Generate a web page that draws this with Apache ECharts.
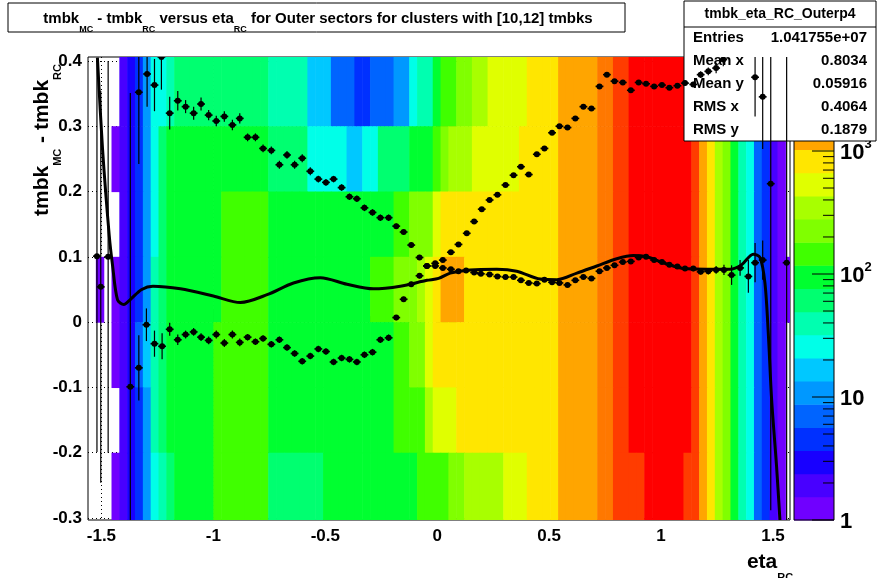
<!DOCTYPE html>
<html><head><meta charset="utf-8">
<script src="https://cdn.jsdelivr.net/npm/echarts@6/dist/echarts.min.js"></script>
<style>html,body{margin:0;padding:0;background:#fff}#c{width:878px;height:578px}</style>
</head><body><div id="c"></div>
<script>
// ---- data ----
const xTickLabels = [-1.5, -1, -0.5, 0, 0.5, 1, 1.5];
const yTickLabels = [-0.3, -0.2, -0.1, 0, 0.1, 0.2, 0.3, 0.4];
const binStart = -1.56, binWidth = 0.035;           // eta binning of the 2D histogram
const rowEdges = [0.41, 0.3, 0.2, 0.1, 0, -0.1, -0.2, -0.31]; // y bands (top -> bottom)
// colour level (0..19, -1 = empty) read per eta bin, per y band
const band0 = [-1,-1,-1,-1,1,2,3,5,7,7, 8,9,9,9,9,9,9,9,9,9, 9,9,9,8,8,8,8,8,6,6, 6,4,4,4,3,3,4,4,4,5, 5,7,8,8,10,11,11,12,12,13, 13,14,14,14,14,14,15,15,15,15, 16,16,16,16,16,17,17,18,18,19, 19,19,19,19,19,19,19,18,16,15, 13,12,10,8,7,4,3,1,0,-1];
const band1 = [-1,-1,-1,0,1,2,3,5,7,9, 10,10,10,10,10,10,10,10,10,10, 10,10,10,9,9,9,9,9,7,7, 7,7,7,6,6,7,7,9,9,9, 9,10,10,10,11,12,13,13,13,14, 14,14,14,14,14,15,15,15,15,15, 16,16,16,16,16,17,17,18,18,19, 19,19,19,19,19,19,19,18,16,15, 13,12,10,8,7,4,3,1,0,-1];
const band2 = [-1,-1,-1,-1,1,2,3,5,7,9, 10,10,10,10,10,10,10,11,11,11, 11,11,11,10,10,10,10,10,10,10, 10,10,10,10,10,10,10,10,10,11, 11,12,12,12,14,15,15,15,15,15, 15,15,15,15,15,15,15,15,15,15, 16,16,16,16,16,17,17,18,18,19, 19,19,19,19,19,19,19,18,16,15, 13,12,10,8,7,4,3,1,0,-1];
const band3 = [-1,0,-1,0,1,2,3,5,8,9, 10,10,10,10,10,10,10,11,11,11, 11,11,11,10,10,10,10,10,10,10, 10,10,10,10,10,10,11,11,11,12, 12,12,13,14,15,16,16,16,15,15, 15,15,15,15,15,15,15,15,15,15, 16,16,16,16,16,17,17,18,18,19, 19,19,19,19,19,19,19,18,16,15, 13,12,10,8,7,4,3,1,0,0];
const band4 = [-1,-1,-1,0,1,2,4,6,8,9, 10,10,10,10,10,10,11,11,11,11, 11,11,11,10,10,10,10,10,10,10, 10,10,10,10,10,10,10,10,10,11, 11,12,12,14,15,15,15,15,15,15, 15,15,15,15,15,15,15,15,15,15, 16,16,16,16,16,17,17,18,18,19, 19,19,19,19,19,19,19,18,16,15, 13,12,10,8,7,4,3,1,0,-1];
const band5 = [-1,-1,-1,-1,1,2,3,5,8,9, 10,10,10,10,10,10,11,11,11,11, 11,11,11,10,10,10,10,10,10,10, 10,10,10,10,10,10,10,10,10,11, 11,11,11,13,14,14,14,15,15,15, 15,15,15,15,15,15,15,15,15,15, 16,16,16,16,16,17,17,18,18,19, 19,19,19,19,19,19,19,18,16,15, 13,12,10,8,7,4,3,1,0,-1];
const band6 = [-1,-1,-1,0,1,2,3,5,7,8, 9,10,10,10,10,10,11,11,11,11, 11,11,11,9,9,9,9,9,9,9, 10,10,10,10,10,10,10,10,10,10, 10,10,11,11,11,11,12,12,13,13, 13,13,13,14,14,14,15,15,15,15, 16,16,16,16,16,17,17,18,18,18, 18,19,19,19,19,19,18,18,16,15, 13,12,10,8,7,4,3,1,0,-1];
const palette = ['#7000ff','#4800ff','#1800ff','#0030ff','#0064ff','#0098ff','#00c8ff','#00ffe8','#00ffb0','#00ff70','#00ff30','#40ff00','#80ff00','#a8ff00','#e0ff00','#ffe600','#ffa500','#ff7800','#ff3c00','#ff0000'];
// profile points [eta, mean, error]
const profileA = [[-1.520,0.101,0.3],[-1.503,0.054,0.3],[-1.470,0.100,0.3],[-1.371,-0.099,0.45],[-1.333,-0.070,0.05],[-1.299,-0.004,0.025],[-1.263,-0.033,0.02],[-1.229,-0.037,0.02],[-1.195,-0.011,0.01],[-1.159,-0.027,0.008],[-1.124,-0.019,0.006],[-1.088,-0.015,0.006],[-1.055,-0.023,0.006],[-1.021,-0.028,0.006],[-0.987,-0.019,0.006],[-0.951,-0.032,0.006],[-0.915,-0.019,0.006],[-0.882,-0.031,0.006],[-0.847,-0.023,0.005],[-0.812,-0.030,0.005],[-0.778,-0.025,0.005],[-0.741,-0.034,0.005],[-0.705,-0.027,0.005],[-0.671,-0.039,0.005],[-0.637,-0.048,0.005],[-0.603,-0.060,0.005],[-0.567,-0.052,0.005],[-0.531,-0.041,0.005],[-0.497,-0.045,0.005],[-0.463,-0.061,0.005],[-0.427,-0.055,0.005],[-0.392,-0.057,0.005],[-0.359,-0.061,0.005],[-0.325,-0.050,0.005],[-0.289,-0.046,0.005],[-0.254,-0.027,0.005],[-0.217,-0.024,0.005],[-0.183,0.007,0.004],[-0.150,0.035,0.004],[-0.116,0.058,0.004],[-0.079,0.071,0.004],[-0.046,0.086,0.003],[-0.009,0.090,0.003],[0.025,0.095,0.003],[0.061,0.107,0.003],[0.095,0.119,0.003],[0.132,0.136,0.003],[0.165,0.154,0.003],[0.199,0.173,0.003],[0.234,0.187,0.003],[0.269,0.195,0.003],[0.305,0.210,0.003],[0.341,0.225,0.003],[0.374,0.238,0.003],[0.409,0.226,0.003],[0.445,0.257,0.003],[0.479,0.266,0.003],[0.513,0.290,0.003],[0.546,0.300,0.003],[0.582,0.298,0.003],[0.617,0.312,0.003],[0.653,0.330,0.003],[0.689,0.327,0.003],[0.725,0.361,0.003],[0.758,0.379,0.003],[0.792,0.369,0.003],[0.829,0.367,0.003],[0.865,0.355,0.003],[0.900,0.367,0.003],[0.933,0.365,0.003],[0.969,0.361,0.003],[1.004,0.363,0.003],[1.037,0.359,0.003],[1.073,0.362,0.003],[1.107,0.366,0.004],[1.144,0.364,0.004],[1.177,0.379,0.005],[1.211,0.384,0.006],[1.246,0.389,0.008],[1.278,0.402,0.01],[1.420,0.375,0.06],[1.454,0.345,0.08]];
const profileB = [[-1.333,0.352,0.11],[-1.296,0.380,0.05],[-1.263,0.363,0.04],[-1.232,0.406,0.05],[-1.195,0.320,0.025],[-1.159,0.339,0.015],[-1.124,0.330,0.01],[-1.088,0.320,0.01],[-1.055,0.334,0.01],[-1.021,0.317,0.008],[-0.987,0.308,0.008],[-0.951,0.315,0.008],[-0.915,0.302,0.008],[-0.882,0.312,0.008],[-0.847,0.283,0.006],[-0.812,0.283,0.006],[-0.778,0.266,0.006],[-0.741,0.263,0.006],[-0.705,0.241,0.006],[-0.671,0.256,0.006],[-0.637,0.241,0.006],[-0.603,0.251,0.006],[-0.567,0.231,0.006],[-0.531,0.219,0.005],[-0.497,0.214,0.005],[-0.463,0.219,0.005],[-0.427,0.206,0.005],[-0.392,0.192,0.005],[-0.359,0.189,0.005],[-0.325,0.175,0.005],[-0.289,0.168,0.005],[-0.254,0.160,0.005],[-0.217,0.160,0.005],[-0.183,0.147,0.004],[-0.150,0.138,0.004],[-0.116,0.118,0.004],[-0.079,0.099,0.004],[-0.046,0.086,0.003],[-0.009,0.086,0.003],[0.025,0.083,0.003],[0.061,0.081,0.003],[0.095,0.078,0.003],[0.129,0.079,0.003],[0.165,0.076,0.003],[0.195,0.074,0.003],[0.234,0.073,0.003],[0.269,0.070,0.003],[0.305,0.069,0.003],[0.341,0.069,0.003],[0.374,0.064,0.003],[0.409,0.060,0.003],[0.445,0.059,0.003],[0.479,0.065,0.003],[0.513,0.061,0.003],[0.546,0.060,0.003],[0.582,0.057,0.003],[0.617,0.064,0.003],[0.653,0.069,0.003],[0.689,0.067,0.003],[0.725,0.078,0.003],[0.758,0.083,0.003],[0.792,0.087,0.003],[0.829,0.092,0.003],[0.865,0.093,0.003],[0.900,0.099,0.003],[0.933,0.100,0.003],[0.969,0.095,0.003],[1.004,0.092,0.003],[1.037,0.088,0.003],[1.073,0.085,0.003],[1.107,0.082,0.003],[1.144,0.082,0.004],[1.177,0.077,0.004],[1.211,0.078,0.005],[1.246,0.080,0.006],[1.281,0.080,0.008],[1.315,0.072,0.015],[1.353,0.083,0.012],[1.390,0.070,0.025],[1.420,0.091,0.03],[1.454,0.095,0.03],[1.490,0.212,0.5],[1.561,0.091,0.5]];
// fitted curve
const fitCurve = [[-1.518,0.405],[-1.495,0.265],[-1.465,0.132],[-1.450,0.086],[-1.428,0.034],[-1.40,0.027],[-1.37,0.035],[-1.32,0.050],[-1.27,0.055],[-1.147,0.051],[-1.0,0.040],[-0.879,0.030],[-0.76,0.042],[-0.642,0.060],[-0.522,0.068],[-0.403,0.058],[-0.285,0.051],[-0.165,0.055],[-0.046,0.064],[0.006,0.067],[0.058,0.075],[0.147,0.080],[0.266,0.081],[0.355,0.078],[0.460,0.066],[0.535,0.065],[0.624,0.075],[0.713,0.086],[0.802,0.097],[0.876,0.102],[0.936,0.100],[1.010,0.091],[1.099,0.082],[1.203,0.081],[1.308,0.081],[1.360,0.088],[1.412,0.104],[1.442,0.099],[1.464,0.060],[1.479,-0.017],[1.494,-0.119],[1.516,-0.221],[1.531,-0.303]];
const statsTitle = 'tmbk_eta_RC_Outerp4';
const statsRows = [['Entries','1.041755e+07'],['Mean x','0.8034'],['Mean y','0.05916'],['RMS x','0.4064'],['RMS y','0.1879']];
const colorbarLabels = [[0,'1',''],[1,'10',''],[2,'10','2'],[3,'10','3']];

// ---- build ----
const FONT = 'Liberation Sans, Arial, sans-serif';
const bands = [band0, band1, band2, band3, band4, band5, band6];
const cells = [];
bands.forEach((b, r) => b.forEach((lv, c) => {
  if (lv < 0) return;
  const x0 = binStart + binWidth * c, x1 = Math.min(x0 + binWidth, 1.576);
  cells.push([x0, x1, rowEdges[r + 1], rowEdges[r], lv]);
}));

const chart = echarts.init(document.getElementById('c'), null, {renderer: 'canvas'});
const G = {left: 88, right: 878 - 790, top: 57, bottom: 578 - 520};
const cbTop = 57, cbBot = 520, decade = 123, cbX = 794, cbW = 40;

function errItem(params, api) {
  const x = api.value(0), y = api.value(1), e = api.value(2);
  const a = api.coord([x, y - e]), b = api.coord([x, y + e]);
  const l = api.coord([x - binWidth / 2, y]), r = api.coord([x + binWidth / 2, y]);
  const c = api.coord([x, y]);
  const ls = {stroke: '#000', lineWidth: 1.2};
  return {type: 'group', children: [
    {type: 'line', shape: {x1: a[0], y1: a[1], x2: b[0], y2: b[1]}, style: ls},
    {type: 'line', shape: {x1: l[0], y1: l[1], x2: r[0], y2: r[1]}, style: {stroke:'#000', lineWidth: 1.6}},
    {type: 'circle', shape: {cx: c[0], cy: c[1], r: 3}, style: {fill: '#000'}}
  ]};
}

const graphics = [];
// colour bar
palette.forEach((col, i) => {
  const h = (cbBot - cbTop) / palette.length;
  graphics.push({type: 'rect', shape: {x: cbX, y: cbBot - h * (i + 1), width: cbW, height: h + 0.5}, style: {fill: col}, z: 10});
});
graphics.push({type: 'rect', shape: {x: cbX, y: cbTop, width: cbW, height: cbBot - cbTop}, style: {fill: 'none', stroke: '#000', lineWidth: 1}, z: 11});
for (let k = 0; k < 4; k++) for (let m = 1; m <= 9; m++) {
  const y = cbBot - decade * (k + Math.log10(m));
  if (y < cbTop) continue;
  const len = m === 1 ? 22 : 11;
  graphics.push({type: 'line', shape: {x1: cbX + cbW - len, y1: y, x2: cbX + cbW, y2: y}, style: {stroke: '#000', lineWidth: 1}, z: 12});
}
colorbarLabels.forEach(([k, t, s]) => {
  graphics.push({type: 'text', x: 840, y: cbBot - decade * k, z: 12,
    style: {text: s ? '{b|' + t + '}{p|' + s + '}' : '{b|' + t + '}', verticalAlign: 'middle', align: 'left',
      rich: {b: {font: 'bold 22px ' + FONT, fill: '#000', verticalAlign: 'bottom', lineHeight: 26},
             p: {font: 'bold 13px ' + FONT, fill: '#000', verticalAlign: 'top', lineHeight: 26}}}});
});
// stats box
graphics.push({type: 'rect', shape: {x: 684, y: 1, width: 192, height: 140}, style: {fill: '#fff', stroke: '#000', lineWidth: 1}, z: 50});
graphics.push({type: 'line', shape: {x1: 684, y1: 27, x2: 876, y2: 27}, style: {stroke: '#000', lineWidth: 1}, z: 51});
graphics.push({type: 'text', x: 780, y: 14, z: 51, style: {text: statsTitle, font: 'bold 14px ' + FONT, fill: '#000', align: 'center', verticalAlign: 'middle'}});
statsRows.forEach(([k, v], i) => {
  const y = 38 + 23 * i;
  graphics.push({type: 'text', x: 693, y, z: 51, style: {text: k, font: 'bold 15px ' + FONT, fill: '#000', verticalAlign: 'middle'}});
  graphics.push({type: 'text', x: 867, y, z: 51, style: {text: v, font: 'bold 15px ' + FONT, fill: '#000', align: 'right', verticalAlign: 'middle'}});
});
// title box
graphics.push({type: 'rect', shape: {x: 8, y: 3, width: 617, height: 29}, style: {fill: '#fff', stroke: '#000', lineWidth: 1}, z: 50});
const subRich = (sz, ssz) => ({a: {font: 'bold ' + sz + 'px ' + FONT, fill: '#000', verticalAlign: 'middle', lineHeight: sz * 2},
  s: {font: 'bold ' + ssz + 'px ' + FONT, fill: '#000', verticalAlign: 'bottom', lineHeight: sz * 2}});
graphics.push({type: 'text', x: 318, y: 19, z: 51, style: {
  text: '{a|tmbk}{s|MC}{a| - tmbk}{s|RC}{a| versus eta}{s|RC}{a| for Outer sectors for clusters with [10,12] tmbks}',
  align: 'center', verticalAlign: 'middle', rich: subRich(15, 9)}});
// axis titles
graphics.push({type: 'text', x: 42, y: 140, rotation: Math.PI / 2, z: 51, style: {
  text: '{a|tmbk}{s|MC}{a| - tmbk}{s|RC}', align: 'center', verticalAlign: 'middle', rich: subRich(21, 11)}});
graphics.push({type: 'text', x: 770, y: 562, z: 51, style: {
  text: '{a|eta}{s|RC}', align: 'center', verticalAlign: 'middle', rich: subRich(21, 11)}});

const option = {
  animation: false,
  backgroundColor: '#fff',
  grid: Object.assign({show: true, borderColor: '#000', borderWidth: 1, backgroundColor: '#fff', containLabel: false}, G),
  xAxis: {type: 'value', min: -1.56, max: 1.576,
    axisLine: {show: false}, 
    axisTick: {show: true, inside: true, length: 12, customValues: xTickLabels, lineStyle: {color: '#000'}},
    minorTick: {show: true, splitNumber: 5, length: 6, lineStyle: {color: '#000'}},
    axisLabel: {customValues: xTickLabels, color: '#000', fontWeight: 'bold', fontSize: 17, fontFamily: FONT, margin: 8,
      formatter: v => String(Math.round(v * 10) / 10)},
    splitLine: {show: true, lineStyle: {color: '#000', type: [1, 3], width: 1}}},
  yAxis: {type: 'value', min: -0.303, max: 0.406,
    axisLine: {show: false},
    axisTick: {show: true, inside: true, length: 20, customValues: yTickLabels, lineStyle: {color: '#000'}},
    minorTick: {show: true, splitNumber: 10, length: 10, lineStyle: {color: '#000'}},
    axisLabel: {customValues: yTickLabels, color: '#000', fontWeight: 'bold', fontSize: 17, fontFamily: FONT, margin: 6,
      formatter: v => String(Math.round(v * 10) / 10)},
    splitLine: {show: true, lineStyle: {color: '#000', type: [1, 3], width: 1}}},
  visualMap: {type: 'piecewise', show: false, dimension: 4, seriesIndex: 0,
    pieces: palette.map((c, i) => ({value: i, color: c}))},
  series: [
    {type: 'custom', data: cells, clip: true, z: 1, encode: {x: [0, 1], y: [2, 3]},
      renderItem: (p, api) => {
        const a = api.coord([api.value(0), api.value(3)]), b = api.coord([api.value(1), api.value(2)]);
        return {type: 'rect', shape: {x: a[0], y: a[1], width: b[0] - a[0] + 0.6, height: b[1] - a[1] + 0.6}, style: {fill: api.visual('color')}};
      }},
    {type: 'line', data: fitCurve, smooth: 0.3, showSymbol: false, clip: true, z: 5, lineStyle: {color: '#000', width: 3}},
    {type: 'custom', data: profileA, clip: true, z: 60, renderItem: errItem},
    {type: 'custom', data: profileB, clip: true, z: 60, renderItem: errItem}
  ],
  graphic: graphics
};
chart.setOption(option);
</script></body></html>
